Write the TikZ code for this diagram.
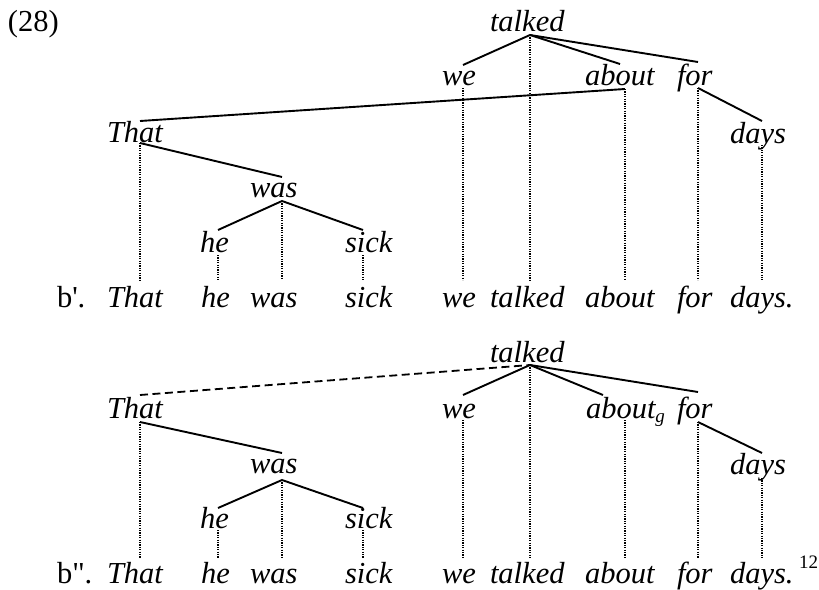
\documentclass[tikz,border=0pt]{standalone}
\usepackage{fontspec}
\setmainfont{Liberation Serif}[ItalicFont={Liberation Serif Italic}]
\begin{document}
\begin{tikzpicture}[x=1pt,y=-1pt,
  word/.style={anchor=base west,inner sep=0pt,outer sep=0pt,font=\fontsize{30.5}{36}\selectfont\itshape},
  label/.style={anchor=base west,inner sep=0pt,outer sep=0pt,font=\fontsize{30.5}{36}\selectfont},
  tree/.style={line width=1.9pt},
  proj/.style={line width=1.2pt,dash pattern=on 1.1pt off 1.3pt},
  dashlink/.style={line width=1.8pt,dash pattern=on 8pt off 4.5pt}]
\useasboundingbox (0,0) rectangle (819,589);
% ---------- (28) ----------
\node[label] (num) at (8,31) {(28)};
% ---------- tree b' ----------
\node[word] (t1) at (490,31) {talked};
\node[word] (we1) at (442,85) {we};
\node[word] (ab1) at (585,85) {about};
\node[word] (for1) at (677,85) {for};
\node[word] (days1) at (730,143) {days};
\node[word] (that1) at (107,142) {That};
\node[word] (was1) at (250,197) {was};
\node[word] (he1) at (200,252) {he};
\node[word] (sick1) at (345,252) {sick};
\node[label] (bp) at (57,307) {b\textquotesingle.};
\node[word] (rThat1) at (107,307) {That};
\node[word] (rhe1) at (201,307) {he};
\node[word] (rwas1) at (250,307) {was};
\node[word] (rsick1) at (345,307) {sick};
\node[word] (rwe1) at (442,307) {we};
\node[word] (rtalked1) at (490,307) {talked};
\node[word] (rabout1) at (585,307) {about};
\node[word] (rfor1) at (677,307) {for};
\node[word] (rdays1) at (730,307) {days.};
% attachment points
\coordinate (t1b) at (530,35);
\coordinate (we1t) at (463,65);
\coordinate (ab1t) at (620,64);
\coordinate (for1t) at (698,62);
\coordinate (we1b) at (463,88);
\coordinate (ab1b) at (625,89);
\coordinate (for1b) at (698,88);
\coordinate (days1t) at (762,121);
\coordinate (days1b) at (762,145);
\coordinate (that1t) at (140,121);
\coordinate (that1b) at (140,143);
\coordinate (was1t) at (282,177);
\coordinate (was1b) at (282,201);
\coordinate (he1t) at (218,230);
\coordinate (sick1t) at (363,230);
\coordinate (he1b) at (218,255);
\coordinate (sick1b) at (363,255);
\draw[tree] (we1t) -- (t1b) -- (ab1t);
\draw[tree] (t1b) -- (for1t);
\draw[tree] (for1b) -- (days1t);
\draw[tree] (ab1b) -- (that1t);
\draw[tree] (that1b) -- (was1t);
\draw[tree] (he1t) -- (was1b) -- (sick1t);
\draw[proj] (t1b) -- (t1b |- 0,280);
\draw[proj] (we1b) -- (we1b |- 0,280);
\draw[proj] (ab1b) -- (ab1b |- 0,280);
\draw[proj] (for1b) -- (for1b |- 0,280);
\draw[proj] (days1b) -- (days1b |- 0,280);
\draw[proj] (that1b) -- (that1b |- 0,280);
\draw[proj] (was1b) -- (was1b |- 0,280);
\draw[proj] (he1b) -- (he1b |- 0,280);
\draw[proj] (sick1b) -- (sick1b |- 0,280);
% ---------- tree b'' ----------
\node[word] (t2) at (490,362) {talked};
\node[word] (we2) at (442,418) {we};
\node[word] (ab2) at (586,418) {about\raisebox{-4pt}{\fontsize{19}{20}\selectfont g}};
\node[word] (for2) at (677,418) {for};
\node[word] (days2) at (730,474) {days};
\node[word] (that2) at (107,418) {That};
\node[word] (was2) at (250,473) {was};
\node[word] (he2) at (200,528) {he};
\node[word] (sick2) at (345,528) {sick};
\node[label] (bpp) at (57,583) {b\textquotedbl.};
\node[word] (rThat2) at (107,583) {That};
\node[word] (rhe2) at (201,583) {he};
\node[word] (rwas2) at (250,583) {was};
\node[word] (rsick2) at (345,583) {sick};
\node[word] (rwe2) at (442,583) {we};
\node[word] (rtalked2) at (490,583) {talked};
\node[word] (rabout2) at (585,583) {about};
\node[word] (rfor2) at (677,583) {for};
\node[word] (rdays2) at (730,583) {days.};
\node[anchor=base west,inner sep=0pt,font=\fontsize{19}{20}\selectfont] (fn) at (799,568) {12};
\coordinate (t2b) at (530,365);
\coordinate (we2t) at (463,395);
\coordinate (ab2t) at (603,395);
\coordinate (for2t) at (698,392);
\coordinate (we2b) at (463,420);
\coordinate (ab2b) at (625,420);
\coordinate (for2b) at (698,422);
\coordinate (days2t) at (762,453);
\coordinate (days2b) at (762,478);
\coordinate (that2t) at (140,395);
\coordinate (that2b) at (140,422);
\coordinate (was2t) at (282,453);
\coordinate (was2b) at (282,480);
\coordinate (he2t) at (218,508);
\coordinate (sick2t) at (363,508);
\coordinate (he2b) at (218,530);
\coordinate (sick2b) at (363,530);
\draw[dashlink] (that2t) -- (t2b);
\draw[tree] (we2t) -- (t2b) -- (ab2t);
\draw[tree] (t2b) -- (for2t);
\draw[tree] (for2b) -- (days2t);
\draw[tree] (that2b) -- (was2t);
\draw[tree] (he2t) -- (was2b) -- (sick2t);
\draw[proj] (t2b) -- (t2b |- 0,558);
\draw[proj] (we2b) -- (we2b |- 0,558);
\draw[proj] (ab2b) -- (ab2b |- 0,558);
\draw[proj] (for2b) -- (for2b |- 0,558);
\draw[proj] (days2b) -- (days2b |- 0,558);
\draw[proj] (that2b) -- (that2b |- 0,558);
\draw[proj] (was2b) -- (was2b |- 0,558);
\draw[proj] (he2b) -- (he2b |- 0,558);
\draw[proj] (sick2b) -- (sick2b |- 0,558);
\end{tikzpicture}
\end{document}
